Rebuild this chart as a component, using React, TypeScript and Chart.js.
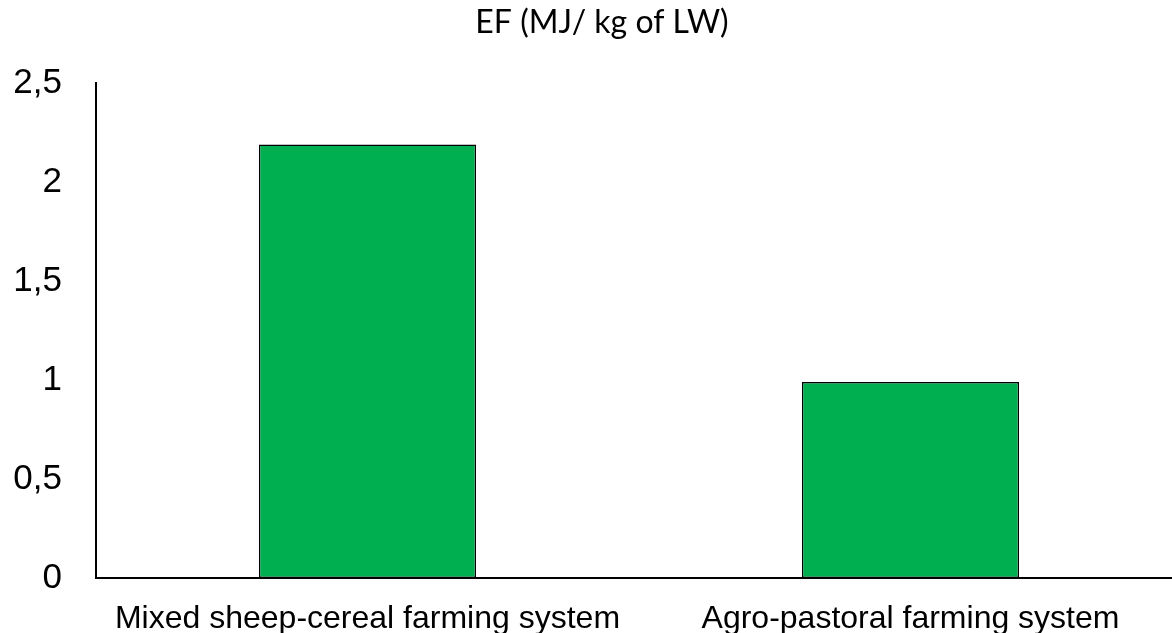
import React, { useEffect, useRef } from "react";
import { Chart, registerables } from "chart.js";

Chart.register(...registerables);

const categories = ["Mixed sheep-cereal farming system", "Agro-pastoral farming system"];
const efValues = [2.19, 0.99];
const chartTitle = "EF (MJ/ kg of LW)";
const yMin = 0;
const yMax = 2.5;
const yStep = 0.5;
const plotOverflowRight = 10;

const titlePlugin = {
  id: "customTitle",
  afterDraw(chart: any) {
    const ctx = chart.ctx;
    ctx.save();
    ctx.font = "32px Lato";
    ctx.fillStyle = "#000";
    ctx.textAlign = "center";
    ctx.textBaseline = "alphabetic";
    ctx.fillText(chartTitle, 602, 33);
    ctx.restore();
  },
};

const extendPlugin = {
  id: "extendRight",
  afterLayout(chart: any) {
    const x = chart.scales.x;
    x.right = x.right + plotOverflowRight;
    x.width = x.right - x.left;
    chart.chartArea.right = x.right;
    chart.chartArea.width = chart.chartArea.right - chart.chartArea.left;
    x.configure();
  },
};

export default function App() {
  const ref = useRef<HTMLCanvasElement | null>(null);
  useEffect(() => {
    if (!ref.current) return;
    const chart = new Chart(ref.current, {
      type: "bar",
      data: {
        labels: categories,
        datasets: [
          {
            data: efValues,
            backgroundColor: "#00B050",
            borderColor: "#000000",
            borderWidth: 1.5,
            borderSkipped: false,
            barPercentage: 0.4,
            categoryPercentage: 1,
          },
        ],
      },
      options: {
        animation: false,
        responsive: false,
        maintainAspectRatio: false,
        layout: { padding: { top: 83, right: 0, left: 0, bottom: 0 } },
        plugins: {
          legend: { display: false },
          title: { display: false },
          tooltip: { enabled: false },
        },
        scales: {
          x: {
            grid: { display: false, drawTicks: false },
            border: { display: true, color: "#000", width: 2 },
            ticks: {
              color: "#000",
              font: { family: "'Liberation Sans', Arial, sans-serif", size: 32, lineHeight: 1 },
              padding: 25,
              maxRotation: 0,
              autoSkip: false,
            },
            afterFit(scale: any) {
              scale.height = 55;
            },
          },
          y: {
            min: yMin,
            max: yMax,
            grid: { display: false, drawTicks: false },
            border: { display: true, color: "#000", width: 2 },
            ticks: {
              stepSize: yStep,
              color: "#000",
              padding: 34,
              font: { family: "'Liberation Sans', Arial, sans-serif", size: 35, lineHeight: 1 },
              callback: (v: any) => String(v).replace(".", ","),
            },
            afterFit(scale: any) {
              scale.width = 96;
            },
          },
        },
      },
      plugins: [extendPlugin, titlePlugin],
    });
    return () => chart.destroy();
  }, []);
  return (
    <div style={{ position: "fixed", left: 0, top: 0, width: 1172, height: 633, background: "#fff" }}>
      <canvas ref={ref} width={1172} height={633} style={{ width: 1172, height: 633, display: "block" }} />
    </div>
  );
}
